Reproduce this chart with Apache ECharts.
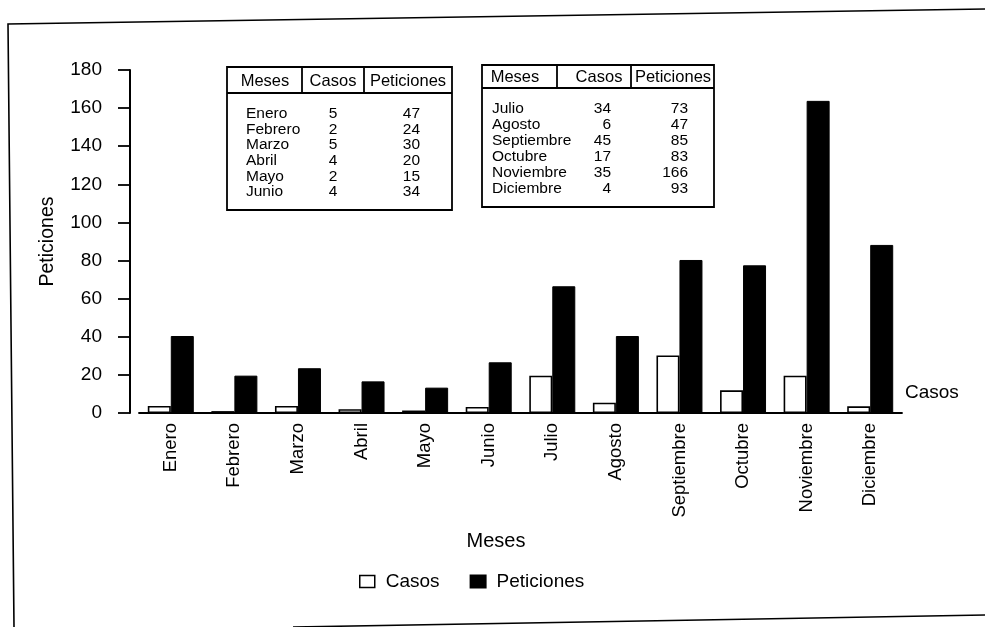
<!DOCTYPE html>
<html><head><meta charset="utf-8">
<script src="https://cdn.jsdelivr.net/npm/echarts@6/dist/echarts.min.js"></script>
<style>html,body{margin:0;padding:0;background:#fff}#c{width:985px;height:627px}</style>
</head><body><div id="c"></div>
<script>
const months = ['Enero','Febrero','Marzo','Abril','Mayo','Junio','Julio','Agosto','Septiembre','Octubre','Noviembre','Diciembre'];
const casos = [3.7, 1.0, 3.7, 2.0, 1.3, 3.2, 19.6, 5.4, 30.2, 11.9, 19.6, 3.5];
const peticiones = [40.4, 19.6, 23.5, 16.6, 13.3, 26.6, 66.5, 40.4, 80.3, 77.5, 163.8, 88.2];
const yTicks = [0, 20, 40, 60, 80, 100, 120, 140, 160, 180];

const tableHeader = ['Meses', 'Casos', 'Peticiones'];
const table1Meses = ['Enero','Febrero','Marzo','Abril','Mayo','Junio'];
const table1Casos = ['5','2','5','4','2','4'];
const table1Pet = ['47','24','30','20','15','34'];
const table2Meses = ['Julio','Agosto','Septiembre','Octubre','Noviembre','Diciembre'];
const table2Casos = ['34','6','45','17','35','4'];
const table2Pet = ['73','47','85','83','166','93'];

const FONT = '"Liberation Sans", Arial, Helvetica, sans-serif';
const chart = echarts.init(document.getElementById('c'), null, {renderer: 'canvas'});

function tableGraphic(x0, y0, x1, y1, yh, d1, d2, hdrX, rowY0, rowStep, nameX, cX, cAlign, pX, pAlign, meses, cs, ps) {
  const els = [];
  const ls = {stroke: '#000', lineWidth: 1.8, fill: null};
  els.push({type: 'rect', shape: {x: x0, y: y0, width: x1 - x0, height: y1 - y0}, style: {fill: '#fff', stroke: '#000', lineWidth: 1.8}});
  els.push({type: 'line', shape: {x1: x0, y1: yh, x2: x1, y2: yh}, style: ls});
  els.push({type: 'line', shape: {x1: d1, y1: y0, x2: d1, y2: yh}, style: ls});
  els.push({type: 'line', shape: {x1: d2, y1: y0, x2: d2, y2: yh}, style: ls});
  tableHeader.forEach((h, i) => {
    els.push({type: 'text', style: {text: h, x: hdrX[i], y: (y0 + yh) / 2 + 1, align: 'center', verticalAlign: 'middle', font: '16.5px ' + FONT, fill: '#000'}});
  });
  meses.forEach((m, i) => {
    const y = rowY0 + i * rowStep;
    els.push({type: 'text', style: {text: m, x: nameX, y: y, align: 'left', verticalAlign: 'middle', font: '15.5px ' + FONT, fill: '#000'}});
    els.push({type: 'text', style: {text: cs[i], x: cX, y: y, align: cAlign, verticalAlign: 'middle', font: '15.5px ' + FONT, fill: '#000'}});
    els.push({type: 'text', style: {text: ps[i], x: pX, y: y, align: pAlign, verticalAlign: 'middle', font: '15.5px ' + FONT, fill: '#000'}});
  });
  return els;
}

const graphics = [].concat(
  tableGraphic(227, 67, 452, 210, 93, 302, 364, [265, 333, 408], 114, 15.6, 246, 333, 'center', 420, 'right', table1Meses, table1Casos, table1Pet),
  tableGraphic(482, 65, 714, 207, 88, 557, 631, [515, 599, 673], 108.5, 16, 492, 611, 'right', 688, 'right', table2Meses, table2Casos, table2Pet),
  [
    {type: 'text', style: {text: 'Casos', x: 905, y: 393, align: 'left', verticalAlign: 'middle', font: '19px ' + FONT, fill: '#000'}},
    {type: 'text', style: {text: 'Meses', x: 496, y: 541, align: 'center', verticalAlign: 'middle', font: '20px ' + FONT, fill: '#000'}},
    {type: 'polyline', shape: {points: [[985, 9], [8, 24], [14, 627]]}, style: {stroke: '#000', lineWidth: 1.6, fill: null}},
    {type: 'polyline', shape: {points: [[293, 627], [700, 620], [985, 615]]}, style: {stroke: '#000', lineWidth: 1.6, fill: null}}
  ]
);

chart.setOption({
  animation: false,
  backgroundColor: '#fff',
  textStyle: {fontFamily: FONT, color: '#000'},
  grid: {left: 139, right: 83, top: 70, bottom: 214, containLabel: false},
  legend: {
    left: 354, top: 567, itemWidth: 15, itemHeight: 12, itemGap: 30,
    textStyle: {fontSize: 19, color: '#000', fontFamily: FONT, padding: [0, 0, 0, 6]},
    data: [
      {name: 'Casos', icon: 'rect', itemStyle: {color: '#fff', borderColor: '#000', borderWidth: 1.5}},
      {name: 'Peticiones', icon: 'rect', itemStyle: {color: '#000'}}
    ]
  },
  xAxis: {
    type: 'category', data: months, boundaryGap: true,
    axisLine: {lineStyle: {color: '#000', width: 1.8}},
    axisTick: {show: false},
    axisLabel: {rotate: 90, interval: 0, margin: 10, fontSize: 18.5, color: '#000', fontFamily: FONT},
    splitLine: {show: false}
  },
  yAxis: {
    type: 'value', min: 0, max: 180, interval: 20, offset: 9,
    name: 'Peticiones', nameLocation: 'middle', nameGap: 72, nameRotate: 90,
    nameTextStyle: {fontSize: 19.5, color: '#000', fontFamily: FONT},
    axisLine: {show: true, lineStyle: {color: '#000', width: 2}},
    axisTick: {show: true, length: 12, lineStyle: {color: '#000', width: 1.8}},
    axisLabel: {margin: 28, fontSize: 19, color: '#000', fontFamily: FONT,
      formatter: v => yTicks.includes(v) ? String(v) : ''},
    splitLine: {show: false}
  },
  series: [
    {name: 'Casos', type: 'bar', data: casos, barWidth: 23, barGap: '0%',
     itemStyle: {color: '#fff', borderColor: '#000', borderWidth: 1.6}},
    {name: 'Peticiones', type: 'bar', data: peticiones, barWidth: 23,
     itemStyle: {color: '#000', borderColor: '#000', borderWidth: 1}}
  ],
  graphic: graphics
});
</script>
</body></html>
